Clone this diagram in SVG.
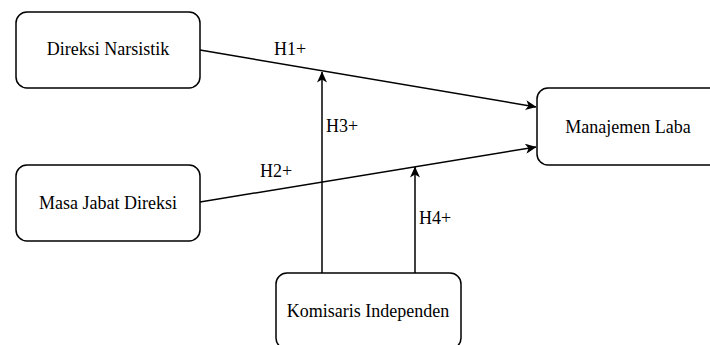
<svg xmlns="http://www.w3.org/2000/svg" width="710" height="345" viewBox="0 0 710 345">
<style>
.box{fill:#fff;stroke:#000;stroke-width:1.5}
.lbl{font-family:"Liberation Serif","Times New Roman",serif;font-size:18px;fill:#000}
.c{text-anchor:middle}
.edge{fill:none;stroke:#000;stroke-width:1.5}
</style>
<defs>
<marker id="arr" viewBox="0 0 11 10" refX="10.5" refY="5" markerWidth="11" markerHeight="10" markerUnits="userSpaceOnUse" orient="auto">
<path d="M0,0 L11,5 L0,10 L3,5 Z" fill="#000"/>
</marker>
</defs>
<rect width="710" height="345" fill="#fff"/>
<g id="connectors">
<line class="edge" x1="200" y1="50" x2="536" y2="107" marker-end="url(#arr)"/>
<line class="edge" x1="200" y1="202" x2="536" y2="147" marker-end="url(#arr)"/>
<line class="edge" x1="322" y1="273" x2="322" y2="72" marker-end="url(#arr)"/>
<line class="edge" x1="415" y1="273" x2="415" y2="167" marker-end="url(#arr)"/>
<text class="lbl" x="274" y="55">H1+</text>
<text class="lbl" x="260" y="177">H2+</text>
<text class="lbl" x="326" y="132">H3+</text>
<text class="lbl" x="419" y="224">H4+</text>
</g>
<g id="direksi-narsistik">
<rect class="box" x="16" y="12" width="184" height="76" rx="11"/>
<text class="lbl c" x="108" y="55">Direksi Narsistik</text>
</g>
<g id="masa-jabat-direksi">
<rect class="box" x="16" y="165" width="184" height="76" rx="11"/>
<text class="lbl c" x="108" y="209">Masa Jabat Direksi</text>
</g>
<g id="manajemen-laba">
<rect class="box" x="537" y="88" width="184" height="77" rx="11"/>
<text class="lbl c" x="628" y="133">Manajemen Laba</text>
</g>
<g id="komisaris-independen">
<rect class="box" x="276" y="273" width="185" height="76" rx="11"/>
<text class="lbl c" x="368" y="317">Komisaris Independen</text>
</g>
</svg>
